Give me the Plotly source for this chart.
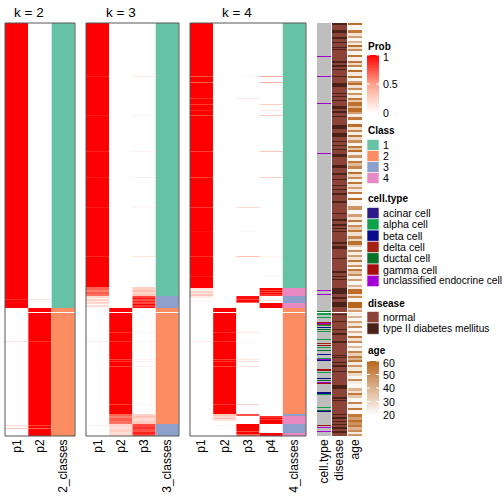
import numpy as np
import plotly.graph_objects as go

W = H = 504
N = 413
NA = None

# ---------------- data: run-length encoded (value, number of samples) ----------------
k2_p1 = [(1,276),(0.85,1),(1,8),(0,4),(NA,1),(0,28),(0.15,1),(0,83),(0.2,1),(0,2),(0.3,1),(0,7)]
k2_p2 = [(0,276),(0.15,1),(0,8),(1,4),(NA,1),(1,28),(0.85,1),(1,83),(0.8,1),(1,2),(0.7,1),(1,7)]
k2_cls = [(1,285),(2,4),(NA,1),(2,123)]

k3_p1 = [(1,53),(0.9,1),(1,38),(0.92,1),(1,35),(0.9,1),(1,25),(0.9,1),(1,29),(0.92,1),(1,48),(0.88,1),(1,30),
         (0.7,3),(0.6,2),(0.72,2),(0.65,2),
         (0.2,2),(0.05,1),(0.25,2),(0.1,1),(0.22,2),(0,1),(0.18,2),(0.05,1),
         (0,4),(NA,1),(0,28),(0.1,1),(0,83),(0.08,1),(0,10)]
k3_p2 = [(0,285),(1,4),(NA,1),
         (1,19),(0.85,1),(1,8),(0.85,1),(1,17),(0.8,1),(1,1),(0.85,1),(1,4),(0.8,1),(1,37),(0.82,1),(1,9),
         (0.7,2),(0.6,2),(0.72,3),(0.65,3),
         (0.22,3),(0.15,2),(0.25,3),(0.18,4)]
k3_p3 = [(0,53),(0.12,1),(0,38),(0.06,1),(0,35),(0.08,1),(0,25),(0.1,1),(0,29),(0.06,1),(0,48),(0.15,1),(0,30),
         (0.25,3),(0.35,2),(0.22,2),(0.3,2),
         (0.8,2),(0.95,1),(0.75,2),(0.9,1),(0.78,2),(1,1),(0.82,2),(0.95,1),
         (0,4),(NA,1),
         (0,19),(0.05,1),(0,8),(0.06,1),(0,17),(0.08,1),(0,1),(0.05,1),(0,4),(0.07,1),(0,37),(0.06,1),(0,9),
         (0.25,2),(0.32,2),(0.2,3),(0.28,3),
         (0.78,3),(0.85,2),(0.75,3),(0.9,2),(0.8,2)]
k3_cls = [(1,273),(3,12),(2,4),(NA,1),(2,111),(3,12)]

k4_p1 = [(1,53),(0.75,1),(1,5),(0.7,1),(1,15),(0.85,1),(1,5),(0.82,1),(1,5),(0.9,1),(1,4),(0.78,1),(1,35),(0.8,1),
         (1,25),(0.8,1),(1,29),(0.82,1),(1,23),(0.95,1),(1,24),(0.85,1),(1,19),(0.9,1),(1,11),
         (0.15,2),(0.05,1),(0.25,2),(0.1,1),(0.3,2),(0.12,2),(0,3),(0.05,1),(0,6),
         (0,4),(NA,1),(0,28),(0.1,1),(0,94)]
k4_p2 = [(0,285),(1,4),(NA,1),
         (1,19),(0.85,1),(1,8),(0.85,1),(1,17),(0.8,1),(1,1),(0.85,1),(1,4),(0.8,1),(1,37),(0.82,1),(1,9),
         (0.3,2),(0.2,2),(0.35,1),(0.15,2),
         (0,4),(0.05,1),(0,10)]
k4_p3 = [(0,53),(0.03,1),(0,21),(0.15,1),(0,108),(0.2,1),(0,23),(0.03,1),(0,24),(0.35,1),(0,39),
         (0.95,3),(0.8,1),(1,2),(0.7,1),(0,5),
         (0,4),(NA,1),
         (0,19),(0.1,1),(0,8),(0.05,1),(0,17),(0.15,1),(0,1),(0.2,1),(0,4),(0.15,1),(0,37),(0.25,1),(0,9),
         (0.75,2),(0,8),(1,7),(0.75,1),(1,2),(0.7,2)]
k4_p4 = [(0,53),(0.45,1),(0,5),(0.4,1),(0,21),(0.25,1),(0,5),(0.12,1),(0,4),(0.3,1),(0,35),(0.3,1),(0,25),(0.28,1),
         (0,78),(0.06,1),(0,19),(0.04,1),(0,11),
         (1,2),(0.8,1),(1,1),(0.75,1),(1,1),(0.85,2),
         (0,4),(0.15,1),(0,2),(1,5),
         (0,4),(NA,1),(0,103),
         (0.85,2),(1,1),(0.8,1),(1,4),(0,9),(1,3)]
k4_cls = [(1,265),(4,8),(3,7),(4,5),(2,4),(NA,1),(2,101),(3,2),(4,8),(3,9),(4,3)]

# cell.type codes: 0 = NA(grey), 1..7 as in legend
cell_types = ["acinar cell", "alpha cell", "beta cell", "delta cell", "ductal cell",
              "gamma cell", "unclassified endocrine cell"]
cell_type = [(0,33),(7,1),(0,19),(7,1),(0,26),(7,1),(0,49),(7,1),(0,136),(7,1),(0,3),(7,1),(0,16),(5,1),(NA,1),
             (2,1),(2,1),(0,2),(2,1),(0,4),(6,1),(7,1),(4,1),(2,1),(0,1),(3,1),(0,1),(5,1),(0,1),(2,1),
             (0,7),(2,1),(0,3),(4,1),(0,1),(6,1),(0,1),(2,1),(0,2),(5,1),(0,3),(3,1),(0,3),(2,1),(7,1),(3,1),
             (0,8),(6,2),(0,1),(2,1),(0,5),(3,1),(0,1),(5,1),(0,1),(7,1),(6,1),(0,8),(3,1),(3,1),(2,1),
             (0,12),(2,1),(0,2),(5,1),(3,1),(0,13),(6,1),(0,1),(7,1),(0,3),(7,1),(0,4)]

# disease codes: 0 normal, 1 type II diabetes mellitus
diseases = ["normal", "type II diabetes mellitus"]
disease = [(1,2),(0,5),(1,3),(0,4),(1,2),(0,3),(1,1),(0,4),(1,1),(0,1),(1,1),(0,11),(1,2),(0,2),(1,2),(0,2),(1,1),
           (0,6),(1,1),(0,6),(1,4),(0,6),(1,1),(0,2),(1,1),(0,3),(1,1),(0,5),(1,3),(0,2),(1,2),(0,3),(1,1),(0,8),
           (1,4),(0,4),(1,4),(0,4),(1,1),(0,3),(1,1),(0,3),(1,1),(0,4),(1,3),(0,8),(1,3),(0,5),(1,2),(0,4),(1,1),
           (0,5),(1,1),(0,3),(1,1),(0,3),(1,2),(0,6),(1,2),(0,10),(1,1),(0,5),(1,2),(0,3),(1,2),(0,2),(1,1),(0,2),
           (1,1),(0,10),(1,2),(0,2),(1,3),(0,9),(1,1),(0,12),(1,2),(0,3),(1,1),(0,2),(1,1),(0,8),(1,6),(0,3),(1,2),
           (0,3),(1,5),(0,5),(NA,1),(0,1),(1,1),(0,6),(1,1),(0,7),(1,1),(0,3),(1,2),(0,6),(1,2),(0,12),(1,1),(0,1),
           (1,1),(0,4),(1,1),(0,2),(1,2),(0,4),(1,1),(0,13),(1,4),(0,8),(1,2),(0,1),(1,1),(0,13),(1,1),(0,2),(1,2),
           (0,2),(1,1),(0,2),(1,1),(0,2),(1,2),(0,2),(1,2),(0,3)]

age = [(58,2),(22,5),(55,3),(27,3),(45,2),(22,3),(40,2),(25,2),(58,2),(30,2),(50,2),(22,4),(56,2),(24,4),(56,2),
       (30,2),(52,2),(22,3),(58,2),(26,4),(55,2),(23,3),(45,2),(58,2),(28,3),(50,2),(22,3),(48,2),(25,3),(55,2),
       (35,2),(57,4),(40,2),(58,4),(45,2),(25,3),(55,3),(22,4),(58,3),(28,3),(52,2),(24,3),(56,2),(30,3),(50,3),
       (22,3),(55,2),(35,2),(58,2),(25,3),(48,3),(22,3),(55,2),(38,3),(52,3),(23,3),(57,2),(30,3),(50,2),(22,3),
       (56,2),(27,3),(45,2),(25,3),(55,2),(22,4),(58,2),(23,6),(48,4),(22,4),(45,3),(26,3),(55,2),(24,3),(50,2),
       (35,3),(55,2),(28,4),(52,3),(30,2),(57,4),(35,2),(22,3),(50,2),(24,3),(45,2),(27,3),(56,2),(25,3),(48,2),
       (22,2),(55,2),(35,3),(50,2),(24,3),(45,2),(22,4),(40,2),(25,2),(58,5),(28,2),(50,2),(23,4),(60,6),(30,2),
       (45,2),(NA,1),(24,3),(40,2),(22,3),(45,2),(26,3),(50,2),(22,3),(40,2),(24,3),(55,2),(28,3),(50,2),(22,3),
       (38,2),(23,3),(52,2),(32,3),(55,2),(40,2),(55,2),(25,3),(48,2),(26,4),(55,2),(30,3),(22,3),(50,2),(25,3),
       (22,4),(40,3),(28,2),(55,2),(35,3),(22,4),(52,2),(24,4),(55,2),(22,4),(55,3),(45,3),(58,2),(48,3),(55,2),
       (40,3),(50,2),(25,2),(48,2)]

col_labels = {
    "k2": ["p1", "p2", "2_classes"],
    "k3": ["p1", "p2", "p3", "3_classes"],
    "k4": ["p1", "p2", "p3", "p4", "4_classes"],
}
prob_ticks = [0, 0.5, 1]
age_ticks = [20, 30, 40, 50, 60]

# ---------------- helpers ----------------
def expand(runs):
    out = []
    for v, n in runs:
        out += [np.nan if v is None else float(v)] * n
    out = out[:N] + [out[-1]] * max(0, N - len(out))
    return np.array(out)

def px(x):
    return x / W

def py(y):
    return 1 - y / H

def steps(colors):
    n = len(colors)
    cs = []
    for i, c in enumerate(colors):
        cs += [[i / n, c], [(i + 1) / n, c]]
    return cs

FONT = "Liberation Sans, Arial, sans-serif"
prob_cs = [[0, "#ffffff"], [0.5, "#ffa28b"], [1, "#ff0000"]]
class_colors = ["#66c2a5", "#fc8d62", "#8da0cb", "#e78ac3"]
cell_colors = ["#bebebe", "#2f1a8a", "#10a048", "#0b0b8e", "#a32211", "#087226", "#a80c0c", "#a300d6"]
disease_colors = ["#8c4338", "#4a2218"]
age_cs = [[0, "#ffffff"], [1, "#b8661d"]]

yedges = np.arange(N + 1) - 0.5
fig = go.Figure()

def add_col(axis, idx, values, **kw):
    fig.add_trace(go.Heatmap(
        z=values.reshape(-1, 1), x=[idx - 0.5, idx + 0.5], y=yedges,
        xaxis=axis, yaxis="y", hoverinfo="skip", showscale=False, **kw))

panels = [("x", "k2", [k2_p1, k2_p2], k2_cls),
          ("x2", "k3", [k3_p1, k3_p2, k3_p3], k3_cls),
          ("x3", "k4", [k4_p1, k4_p2, k4_p3, k4_p4], k4_cls)]
for axis, key, probs, cls in panels:
    for i, p in enumerate(probs):
        add_col(axis, i, expand(p), colorscale=prob_cs, zmin=0, zmax=1)
    add_col(axis, len(probs), expand(cls), colorscale=steps(class_colors), zmin=0.5,
            zmax=len(class_colors) + 0.5)

add_col("x4", 0, expand(cell_type), colorscale=steps(cell_colors), zmin=-0.5, zmax=len(cell_colors) - 0.5)
add_col("x5", 0, expand(disease), colorscale=steps(disease_colors), zmin=-0.5, zmax=1.5)
add_col("x6", 0, expand(age), colorscale=age_cs, zmin=20, zmax=60)

# colour keys (legend gradients) drawn as small heatmaps on their own axes
key_n = 100
prob_key = np.linspace(0, 1, key_n)
age_key = np.linspace(20, 60, key_n)
fig.add_trace(go.Heatmap(z=prob_key.reshape(-1, 1), x=[0], y=prob_key, colorscale=prob_cs, zmin=0, zmax=1,
                         showscale=False, xaxis="x7", yaxis="y2", hoverinfo="skip"))
fig.add_trace(go.Heatmap(z=age_key.reshape(-1, 1), x=[0], y=age_key, colorscale=age_cs, zmin=20, zmax=60,
                         showscale=False, xaxis="x8", yaxis="y3", hoverinfo="skip"))

# ---------------- axes ----------------
domains = {"x": (5, 75), "x2": (86, 179), "x3": (190, 306), "x4": (317, 331), "x5": (332, 347), "x6": (348, 362)}
labels = {"x": col_labels["k2"], "x2": col_labels["k3"], "x3": col_labels["k4"],
          "x4": ["cell.type"], "x5": ["disease"], "x6": ["age"]}
layout = {}
for ax, (a, b) in domains.items():
    name = "xaxis" if ax == "x" else "xaxis" + ax[1:]
    n = len(labels[ax])
    layout[name] = dict(domain=[px(a), px(b)], range=[-0.5, n - 0.5], anchor="y",
                        tickvals=list(range(n)), ticktext=labels[ax], tickangle=-90,
                        showgrid=False, zeroline=False, showline=False, ticks="",
                        tickfont=dict(size=12, family=FONT, color="black"), fixedrange=True)
layout["yaxis"] = dict(domain=[py(436), py(23)], range=[N - 0.5, -0.5], visible=False,
                       showgrid=False, zeroline=False, fixedrange=True)

# key axes
PROB_TOP, PROB_BOT = 55, 113
AGE_TOP, AGE_BOT = 361, 415
layout["xaxis7"] = dict(domain=[px(367), px(379)], range=[-0.5, 0.5], anchor="y2", visible=False, fixedrange=True)
layout["yaxis2"] = dict(domain=[py(PROB_BOT), py(PROB_TOP)], range=[0, 1], anchor="x7", visible=False,
                        fixedrange=True)
layout["xaxis8"] = dict(domain=[px(367), px(379)], range=[-0.5, 0.5], anchor="y3", visible=False, fixedrange=True)
layout["yaxis3"] = dict(domain=[py(AGE_BOT), py(AGE_TOP)], range=[20, 60], anchor="x8", visible=False,
                        fixedrange=True)

shapes = []
for a, b in [(5, 75), (86, 179), (190, 306)]:
    shapes.append(dict(type="rect", xref="paper", yref="paper", x0=px(a), x1=px(b), y0=py(436), y1=py(23),
                       line=dict(color="#555555", width=1), fillcolor="rgba(0,0,0,0)", layer="above"))

annotations = []
for text, cx in [("k = 2", 28.5), ("k = 3", 121), ("k = 4", 236.5)]:
    annotations.append(dict(text=text, x=px(cx), y=py(12), xref="paper", yref="paper", showarrow=False,
                            xanchor="center", yanchor="middle", font=dict(size=13.5, family=FONT, color="black")))

def label(text, x, y, size=10.6, bold=False):
    annotations.append(dict(text="<b>%s</b>" % text if bold else text, x=px(x), y=py(y), xref="paper",
                            yref="paper", showarrow=False, xanchor="left", yanchor="middle",
                            font=dict(size=size, family=FONT, color="black")))

def key_ticks(ticks, vmin, vmax, top, bot, fmt):
    for t in ticks:
        yy = bot - (t - vmin) / (vmax - vmin) * (bot - top)
        if t != vmin:
            for xa, xb in [(367, 370), (376, 379)]:
                shapes.append(dict(type="line", xref="paper", yref="paper", x0=px(xa), x1=px(xb),
                                   y0=py(yy), y1=py(yy), line=dict(color="white", width=1)))
        label(fmt(t), 380.5, yy if t != vmax else yy + 1.5)

def legend_items(names, colors, y0, step):
    for i, (nm, c) in enumerate(zip(names, colors)):
        top = y0 + i * step
        shapes.append(dict(type="rect", xref="paper", yref="paper", x0=px(367), x1=px(379),
                           y0=py(top + step), y1=py(top), fillcolor=c,
                           line=dict(color="rgba(255,255,255,0.6)", width=1)))
        label(nm, 381, top + step / 2, size=10.2 if len(nm) > 20 else 10.6)

label("Prob", 366, 46, size=10, bold=True)
key_ticks(prob_ticks, 0, 1, PROB_TOP, PROB_BOT, lambda t: "%g" % t)
label("Class", 366, 130, size=10, bold=True)
legend_items(["1", "2", "3", "4"], class_colors, 139.5, 11)
label("cell.type", 366, 199, size=10, bold=True)
legend_items(cell_types, cell_colors[1:], 207.5, 11.3)
label("disease", 366, 303, size=10, bold=True)
legend_items(diseases, disease_colors, 311.5, 11.4)
label("age", 366, 350, size=10, bold=True)
key_ticks(age_ticks, 20, 60, AGE_TOP, AGE_BOT, lambda t: "%d" % t)

fig.update_layout(width=W, height=H, margin=dict(l=0, r=0, t=0, b=0), autosize=False,
                  paper_bgcolor="white", plot_bgcolor="white", shapes=shapes, annotations=annotations,
                  font=dict(family=FONT), showlegend=False, **layout)
fig.write_html("out.html", config={"displayModeBar": False},
               post_script="document.body.style.margin='0';document.body.style.overflow='hidden';")
